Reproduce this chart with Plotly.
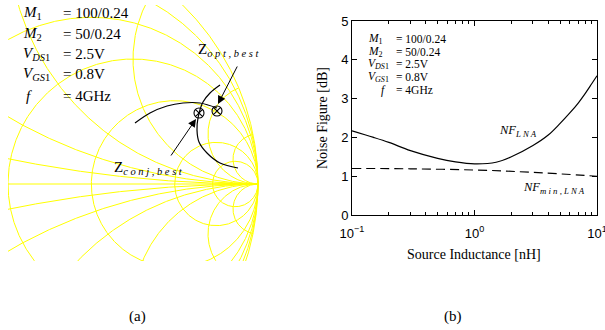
import numpy as np
import plotly.graph_objects as go

W, H = 605, 330

# ---------------- data: Smith chart (panel a) ----------------
r_values = [0, 0.2, 0.5, 1, 2, 5, 10]          # constant-resistance circles
x_values = [0.2, 0.5, 1, 2, 5, 10]             # constant-reactance arcs (+/-)

# black contours drawn on the chart (reflection-coefficient coordinates)
arc1_re = [0.508, 0.568, 0.636, 0.700, 0.768, 0.836]
arc1_im = [0.244, 0.284, 0.312, 0.324, 0.324, 0.304]
arc2_re = [0.848, 0.808, 0.780, 0.760, 0.756, 0.764, 0.796, 0.848, 0.920]
arc2_im = [0.396, 0.364, 0.328, 0.264, 0.216, 0.168, 0.124, 0.084, 0.064]
pts_re = [0.764, 0.836]     # Z_conj,best , Z_opt,best
pts_im = [0.284, 0.292]

# ---------------- data: noise figure (panel b) ----------------
L_nH = [0.1, 0.15, 0.2, 0.3, 0.5, 0.7, 1.0, 1.5, 2.0, 3.0, 4.0, 5.0, 6.0, 7.0, 8.0, 9.0, 10.0]
NF_LNA = [2.17, 2.0, 1.87, 1.66, 1.46, 1.37, 1.32, 1.36, 1.50, 1.79, 2.06, 2.36, 2.63, 2.88, 3.13, 3.37, 3.59]
L_min = [0.1, 0.3, 1.0, 3.0, 10.0]
NF_min = [1.20, 1.19, 1.16, 1.10, 1.00]

y_ticks = [0, 1, 2, 3, 4, 5]
x_ticks = [0.1, 1, 10]
x_ticktext = ["10<sup>\u22121</sup>", "10<sup>0</sup>", "10<sup>1</sup>"]
x_minor = [0.2, 0.3, 0.4, 0.5, 0.6, 0.7, 0.8, 0.9, 2, 3, 4, 5, 6, 7, 8, 9]

params = [("<i>M</i><sub>1</sub>", "= 100/0.24"),
          ("<i>M</i><sub>2</sub>", "= 50/0.24"),
          ("<i>V</i><sub><i>DS</i>1</sub>", "= 2.5V"),
          ("<i>V</i><sub><i>GS</i>1</sub>", "= 0.8V"),
          ("<i>f</i>", "= 4GHz")]

# ---------------- build Smith grid ----------------
gx, gy = [], []
t = np.linspace(0, 2 * np.pi, 1441)
for r in r_values:
    c, rad = r / (1 + r), 1 / (1 + r)
    gx += list(c + rad * np.cos(t)) + [None]
    gy += list(rad * np.sin(t)) + [None]
rr = np.concatenate([np.linspace(0, 1, 400), np.logspace(0, 4, 800)[1:]])
for xv in x_values:
    for s in (1, -1):
        z = rr + 1j * s * xv
        g = (z - 1) / (z + 1)
        gx += list(g.real) + [None]
        gy += list(g.imag) + [None]
gx += [-1, 1, None]
gy += [0, 0, None]

fig = go.Figure()
fig.add_trace(go.Scatter(x=gx, y=gy, mode="lines", xaxis="x2", yaxis="y2",
                         line=dict(color="#ffff00", width=1), hoverinfo="skip"))
fig.add_trace(go.Scatter(x=arc1_re, y=arc1_im, mode="lines", xaxis="x2", yaxis="y2",
                         line=dict(color="black", width=1.2, shape="spline")))
fig.add_trace(go.Scatter(x=arc2_re, y=arc2_im, mode="lines", xaxis="x2", yaxis="y2",
                         line=dict(color="black", width=1.2, shape="spline")))
fig.add_trace(go.Scatter(x=pts_re, y=pts_im, mode="markers", xaxis="x2", yaxis="y2",
                         marker=dict(symbol="circle-x-open", size=10,
                                     color="black", line=dict(width=1.1, color="black"))))

fig.add_trace(go.Scatter(x=L_nH, y=NF_LNA, mode="lines",
                         line=dict(color="black", width=1.2, shape="spline")))
fig.add_trace(go.Scatter(x=L_min, y=NF_min, mode="lines",
                         line=dict(color="black", width=1.1, dash="9px,5px", shape="spline")))

def px(x):
    return x / W

def py(y):
    return 1 - y / H

sx0, sx1, sy0, sy1 = 8, 262, 5, 261
R = 250.0
cx, cy = 8, 184

axis_font = dict(family="Liberation Sans, Arial", size=13, color="black")
fig.update_layout(
    width=W, height=H, margin=dict(l=0, r=0, t=0, b=0, autoexpand=False),
    paper_bgcolor="white", plot_bgcolor="white", showlegend=False,
    xaxis=dict(domain=[px(352), px(597)], type="log", range=[-1, 1],
               tickmode="array", tickvals=x_ticks, ticktext=x_ticktext,
               ticks="inside", ticklen=5, tickcolor="black",
               showline=True, linecolor="black", linewidth=1, mirror="allticks",
               showgrid=False, zeroline=False, tickfont=axis_font,
               ticklabeloverflow="allow", ticklabelstandoff=6, automargin=False,
               minor=dict(tickmode="array", tickvals=x_minor, ticks="inside",
                          ticklen=3, tickcolor="black", showgrid=False),
               anchor="y"),
    yaxis=dict(domain=[py(215), py(21)], range=[0, 5],
               tickmode="array", tickvals=y_ticks, automargin=False,
               ticks="inside", ticklen=5, tickcolor="black",
               showline=True, linecolor="black", linewidth=1, mirror="allticks",
               showgrid=False, zeroline=False, tickfont=axis_font, anchor="x"),
    xaxis2=dict(domain=[px(sx0), px(sx1)],
                range=[(sx0 - cx) / R, (sx1 - cx) / R],
                visible=False, anchor="y2", automargin=False),
    yaxis2=dict(domain=[py(sy1), py(sy0)],
                range=[(cy - sy1) / R, (cy - sy0) / R],
                visible=False, anchor="x2", automargin=False),
)

serif = "Liberation Serif, Times New Roman"
ann = []

def text(x, y, s, size, xanchor="left", angle=0):
    ann.append(dict(x=px(x), y=py(y), xref="paper", yref="paper", text=s,
                    showarrow=False, xanchor=xanchor, yanchor="middle",
                    textangle=angle,
                    font=dict(family=serif, size=size, color="black")))

# panel (a) parameter block
left_rows_y = [13, 34, 54, 74, 96]
for (lab, val), yv in zip(params, left_rows_y):
    text(24 if lab == "<i>f</i>" else 21, yv, lab, 15)
    text(61, yv, val, 15)

# panel (b) parameter block
right_rows_y = [39, 52, 64, 77, 90]
for (lab, val), yv in zip(params, right_rows_y):
    text(379 if lab == "<i>f</i>" else 366, yv, lab, 11.5)
    text(394, yv, val, 11.5)

text(196, 50, "Z<sub><i>o p t , b e s t</i></sub>", 15)
text(112, 168, "Z<sub><i>c o n j , b e s t</i></sub>", 15)
text(497, 131, "<i>NF</i><sub><i>L N A</i></sub>", 12.5)
text(521, 188, "<i>NF</i><sub><i>m i n , L N A</i></sub>", 12.5)
text(322, 118, "Noise Figure [dB]", 14, xanchor="center", angle=-90)
text(474, 254, "Source Inductance [nH]", 14, xanchor="center")
text(137, 316, "(a)", 15, xanchor="center")
text(453, 316, "(b)", 15, xanchor="center")

# arrows to the two optimum points
ann.append(dict(x=0.84, y=0.32, xref="x2", yref="y2", ax=20, ay=-39, text="",
                showarrow=True, arrowhead=2, arrowsize=1.6, arrowwidth=1,
                arrowcolor="black", standoff=0))
ann.append(dict(x=0.752, y=0.26, xref="x2", yref="y2", ax=-26, ay=38, text="",
                showarrow=True, arrowhead=2, arrowsize=1.6, arrowwidth=1,
                arrowcolor="black", standoff=0))

fig.update_layout(annotations=ann)
fig.write_html("out.html", config={"displayModeBar": False},
               post_script="document.body.style.margin='0';document.body.style.overflow='hidden';")
